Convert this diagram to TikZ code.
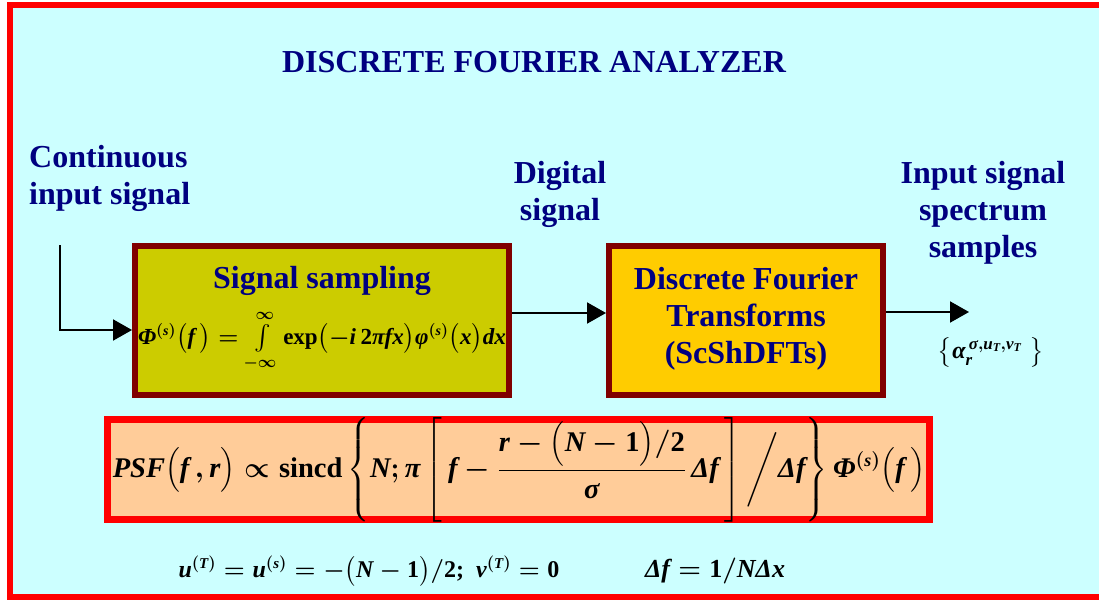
\RequirePackage{fix-cm}
\documentclass[tikz,border=0pt]{standalone}
\usepackage{amsmath}
\usepackage{fontspec}
\setmainfont{Liberation Serif}
\usetikzlibrary{arrows.meta,calc}

\definecolor{titleblue}{RGB}{0,0,128}
\definecolor{bgcyan}{RGB}{204,255,255}
\definecolor{framered}{RGB}{255,0,0}
\definecolor{boxbrown}{RGB}{128,0,0}
\definecolor{oliveyellow}{RGB}{204,204,0}
\definecolor{amber}{RGB}{255,204,0}
\definecolor{peach}{RGB}{255,204,153}

% Times-like bold italic variables and bold upright words inside formulas
\newcommand\VarI[1]{\hbox{\bfseries\itshape #1}}
\newcommand\VarU[1]{\hbox{\bfseries\upshape #1}}
% the same at a given smaller size, for indices
\newcommand\SupI[2][15]{\hbox{\fontsize{#1}{#1}\selectfont\bfseries\itshape #2}}

% the formulas
\newcommand\FmlSampling{\fontsize{23}{27}\selectfont\boldmath
  $\VarI{Φ}^{(\SupI[14]{s})}\bigl(\VarI{f}\,\bigr)=\int\limits_{-\infty}^{\infty}\VarU{exp}\bigl(-\VarI{i}\,\VarU{2}\VarI{πfx}\bigr)\VarI{φ}^{(\SupI[14]{s})}\bigl(\VarI{x}\bigr)\VarI{dx}$}
\newcommand\FmlAlpha{\fontsize{24}{28}\selectfont\boldmath
  $\left\{\VarI{α}_{\SupI[17]{r}}^{\,\SupI[17]{σ},\SupI[17]{u}_{\SupI[12]{T}},\SupI[17]{v}_{\SupI[12]{T}}}\;\right\}$}
\newcommand\FmlPSF{\fontsize{28.5}{33}\selectfont\boldmath
  $\VarI{PSF}\bigl(\VarI{f}\,,\VarI{r}\bigr)\propto\VarU{sincd}\left\{\VarI{N};\VarI{π}\left[\,\VarI{f}-\dfrac{\VarI{r}-\bigl(\VarI{N}-\VarU{1}\bigr)/\VarU{2}}{\VarI{σ}}\,\VarI{Δf}\,\right]\Bigg/\VarI{Δf}\right\}\VarI{Φ}^{(\SupI[18]{s})}\bigl(\VarI{f}\,\bigr)$}
\newcommand\FmlShift{\fontsize{24}{28}\selectfont\boldmath
  $\VarI{u}^{(\SupI{T})}=\VarI{u}^{(\SupI{s})}=-\bigl(\VarI{N}-\VarU{1}\bigr)/\VarU{2}\VarU{;}\ \ \VarI{v}^{(\SupI{T})}=\VarU{0}$}
\newcommand\FmlStep{\fontsize{26}{30}\selectfont\boldmath
  $\VarI{Δf}=\VarU{1}/\VarI{NΔx}$}

\newsavebox\BoxSamp
\newsavebox\BoxAlpha
\newsavebox\BoxPSF
\newsavebox\BoxShift
\newsavebox\BoxStep
% formulas are set once with the document fonts, then placed in nodes
\AtBeginDocument{%
  \sbox\BoxSamp{\normalfont\FmlSampling}%
  \sbox\BoxAlpha{\normalfont\FmlAlpha}%
  \sbox\BoxPSF{\normalfont\FmlPSF}%
  \sbox\BoxShift{\normalfont\FmlShift}%
  \sbox\BoxStep{\normalfont\FmlStep}}

\begin{document}
\begin{tikzpicture}[x=1pt,y=-1pt,
  lbl/.style={text=titleblue,font=\fontsize{32}{37}\selectfont\bfseries,align=center,inner sep=0pt},
  blk/.style={draw=boxbrown,line width=6pt},
  fml/.style={inner sep=0pt},
  flow/.style={line width=2pt,-{Triangle[length=19pt,width=21pt]}}]

\useasboundingbox (0,0) rectangle (1099,599);
\begin{scope}
  \clip (0,0) rectangle (1099,599);
  \draw[line width=6pt,draw=framered,fill=bgcyan] (9.5,5) rectangle (1120,596.5);
\end{scope}

% headings
\node[lbl] (title) at (534,62) {DISCRETE FOURIER ANALYZER};
\node[lbl,align=left,anchor=west] (lblin) at (29,178) {Continuous\\input signal};
\node[lbl] (lbldig) at (560,194.5) {Digital\\signal};
\node[lbl] (lblout) at (983,213) {Input signal\\spectrum\\samples};

% processing blocks
\node[blk,fill=oliveyellow,minimum width=374pt,minimum height=149pt] (samp) at (322,320.5) {};
\node[lbl] (samptitle) at (322,281) {Signal sampling};
\node[fml] (sampeq) at (322,341) {\usebox\BoxSamp};

\node[blk,fill=amber,minimum width=274pt,minimum height=149pt] (dft) at (746,320.5) {};
\node[lbl] (dfttext) at (746,318.5) {Discrete Fourier\\Transforms\\(ScShDFTs)};

% signal flow
\coordinate (src) at (60,245);
\coordinate (outtip) at (969,312);
\draw[flow] (src) |- ($(samp.west)+(0,9.5)$);
\draw[flow] ($(samp.east)+(0,-7.5)$) -- ($(dft.west)+(0,-7.5)$);
\draw[flow] ($(dft.east)+(0,-8.5)$) -- (outtip);

\node[fml] (alpha) at (991,352) {\usebox\BoxAlpha};

% point spread function
\node[draw=framered,line width=7pt,fill=peach,minimum width=822pt,minimum height=100pt] (psfbox) at (518.5,469.5) {};
\node[fml] (psf) at (519,470) {\usebox\BoxPSF};

% parameters
\node[fml] (ueq) at (369,571) {\usebox\BoxShift};
\node[fml] (dfeq) at (715,571) {\usebox\BoxStep};
\end{tikzpicture}
\end{document}
